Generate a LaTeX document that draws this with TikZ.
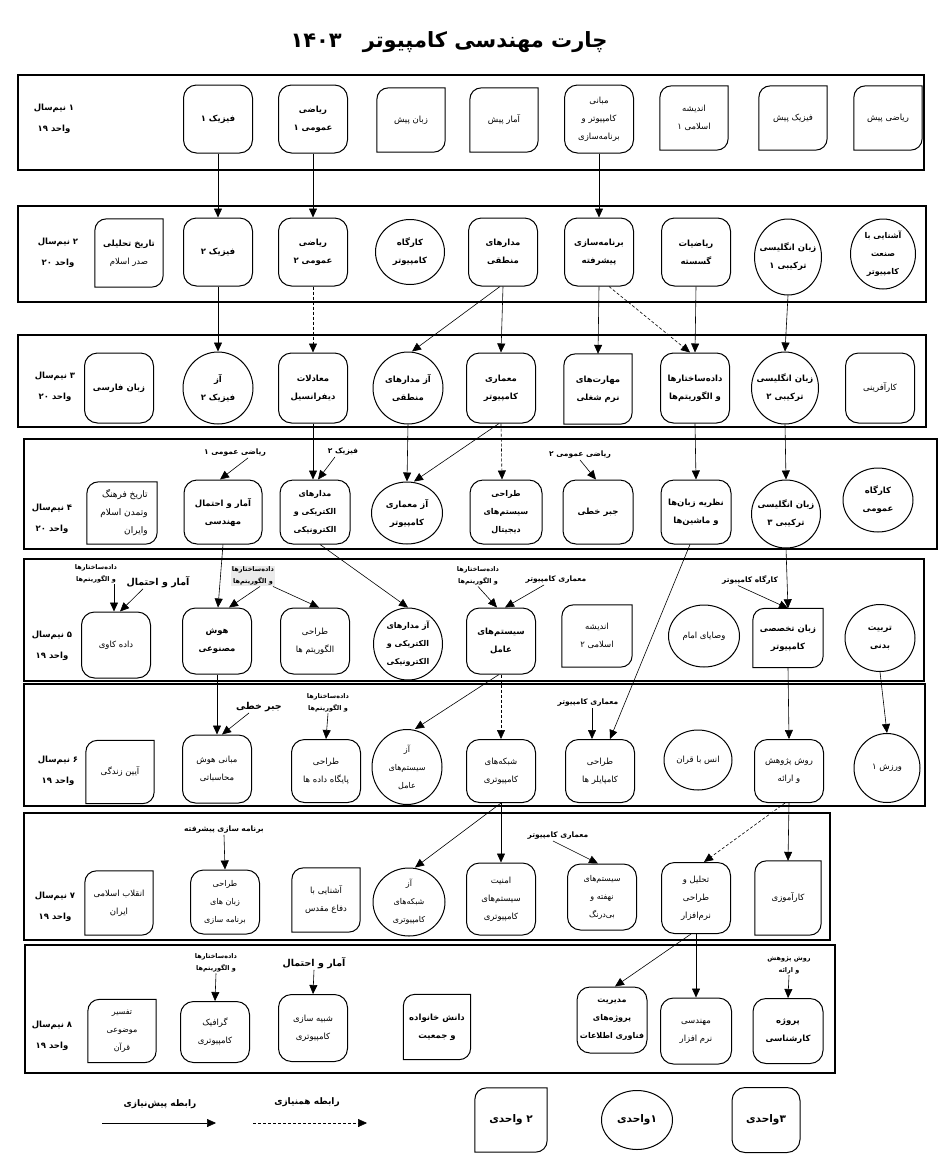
\documentclass[tikz,border=0pt]{standalone}
\usepackage{fontspec}
\TeXXeTstate=1
\newfontfamily\fa[Script=Arabic]{DejaVu Sans}
\usetikzlibrary{arrows.meta,shapes.geometric}
\newcommand{\Rt}[1]{\beginR #1\endR}
\newcommand{\Rb}[1]{{\bfseries\beginR #1\endR}}
\newcommand{\Rs}[1]{{\fontsize{8}{16}\selectfont\beginR #1\endR}}
\newcommand{\Rbs}[1]{{\fontsize{8}{16}\selectfont\bfseries\beginR #1\endR}}
\newcommand{\Rbig}[1]{{\fontsize{10.5}{12}\selectfont\bfseries\beginR #1\endR}}
\tikzset{
  sec/.style={draw=black, line width=1.1pt},
  three/.style={draw, rounded corners=13pt, minimum width=69pt, minimum height=68pt, inner sep=0pt, line width=1pt},
  one/.style={draw, ellipse, minimum width=69pt, minimum height=68pt, inner sep=0pt, line width=1pt},
  two/.style={rectangle, minimum width=68pt, minimum height=64pt, inner sep=0pt},
  boxline/.style={line width=1pt, draw=black},
  txt/.style={font=\fa\fontsize{8.5}{18}\selectfont, align=center, inner sep=0pt},
  lab/.style={font=\fa\bfseries\fontsize{6.5}{12}\selectfont, align=center, inner sep=1pt},
  mid/.style={font=\fa\bfseries\fontsize{7.5}{11}\selectfont, align=center, inner sep=1pt},
  big/.style={font=\fa\bfseries\fontsize{9.5}{12}\selectfont, inner sep=1pt},
  leglab/.style={font=\fa\bfseries\fontsize{9}{11}\selectfont, inner sep=1pt},
  sem/.style={font=\fa\bfseries\fontsize{8.5}{21}\selectfont, align=center},
  pre/.style={-{Triangle[length=9pt,width=8pt]}, line width=0.6pt},
  co/.style={pre, dash pattern=on 3pt off 2pt},
}
\newcommand{\Three}[5][]{\node[three,#1] (#2) at (#3,#4) {}; \node[txt] (#2-t) at (#2) {#5};}
\newcommand{\One}[5][]{\node[one,#1] (#2) at (#3,#4) {}; \node[txt] (#2-t) at (#2) {#5};}
\newcommand{\TwoShape}[4][]{\node[two,#1] (#2) at (#3,#4) {};
  \draw[boxline] (#2.south west) -- ([yshift=-12pt]#2.north west) .. controls ([yshift=-5pt]#2.north west) and ([xshift=5pt]#2.north west) .. ([xshift=12pt]#2.north west) -- (#2.north east) -- ([yshift=12pt]#2.south east) .. controls ([yshift=5pt]#2.south east) and ([xshift=-5pt]#2.south east) .. ([xshift=-12pt]#2.south east) -- cycle;}
\newcommand{\Two}[5][]{\TwoShape[#1]{#2}{#3}{#4}
  \node[txt] (#2-t) at (#2) {#5};}
\begin{document}
\begin{tikzpicture}[x=1pt,y=-1pt]
\useasboundingbox[fill=white] (0,0) rectangle (943,1173);
% title
\node[font=\fa\bfseries\fontsize{21}{24}\selectfont] (title) at (449,42) {\Rt{چارت مهندسی کامپیوتر\quad ۱۴۰۳}};
% sections
\draw[sec] (18,75) rectangle (924,170);
\draw[sec] (18,206) rectangle (926,302);
\draw[sec] (18,335) rectangle (926,427);
\draw[sec] (24,439) rectangle (937,549);
\draw[sec] (24,559) rectangle (924,681);
\draw[sec] (24,684) rectangle (925,806);
\draw[sec] (24,813) rectangle (830,940);
\draw[sec] (25,945) rectangle (835,1073);
% semester labels (words laid out left to right, as printed in the reference)
\node[sem] (s1) at (54,119) {نیم‌سال ۱\\۱۹ واحد};
\node[sem] (s2) at (58,253) {نیم‌سال ۲\\۲۰ واحد};
\node[sem] (s3) at (55,387) {نیم‌سال ۳\\۲۰ واحد};
\node[sem] (s4) at (52,519) {نیم‌سال ۴\\۲۰ واحد};
\node[sem] (s5) at (52,646) {نیم‌سال ۵\\۱۹ واحد};
\node[sem] (s6) at (58,771) {نیم‌سال ۶\\۱۹ واحد};
\node[sem] (s7) at (55,907) {نیم‌سال ۷\\۱۹ واحد};
\node[sem] (s8) at (52,1036) {نیم‌سال ۸\\۱۹ واحد};
% row 1
\Three{fiz1}{218}{119}{\Rb{فیزیک ۱}}
\Three{riaz1}{313}{119}{\Rb{ریاضی}\\\Rb{عمومی ۱}}
\Two{zpish}{411}{120}{\Rt{زبان پیش}}
\Two{apish}{504}{120}{\Rt{آمار پیش}}
\Three{mabani}{599}{119}{\Rt{مبانی}\\\Rt{کامپیوتر و}\\\Rt{برنامه‌سازی}}
\Two{and1}{694}{118}{\Rt{اندیشه}\\\Rt{اسلامی ۱}}
\Two{fpish}{793}{118}{\Rt{فیزیک پیش}}
\Two{rpish}{888}{118}{\Rt{ریاضی پیش}}
% row 2
\Two[minimum height=68pt]{tarikh}{129}{253}{\Rb{تاریخ تحلیلی}\\\Rt{صدر اسلام}}
\Three{fiz2}{218}{252}{\Rb{فیزیک ۲}}
\Three{riaz2}{313}{252}{\Rb{ریاضی}\\\Rb{عمومی ۲}}
\One[minimum height=65pt]{kargah}{410}{252}{\Rb{کارگاه}\\\Rb{کامپیوتر}}
\Three{madmant}{503}{252}{\Rb{مدارهای}\\\Rb{منطقی}}
\Three{barn}{599}{252}{\Rb{برنامه‌سازی}\\\Rb{پیشرفته}}
\Three{gosaste}{696}{252}{\Rb{ریاضیات}\\\Rb{گسسته}}
\One[minimum width=67pt,minimum height=76pt]{eng1}{788}{257}{\Rb{زبان انگلیسی}\\\Rb{ترکیبی ۱}}
\One[minimum width=65pt,minimum height=70pt]{sanat}{883}{254}{\Rbs{آشنایی با}\\\Rbs{صنعت}\\\Rbs{کامپیوتر}}
% row 3
\Three[minimum height=70pt]{farsi}{119}{388}{\Rb{زبان فارسی}}
\One[minimum width=70pt,minimum height=72pt]{azfiz2}{218}{388}{\Rb{آز}\\\Rb{فیزیک ۲}}
\Three[minimum height=70pt]{moadelat}{313}{388}{\Rb{معادلات}\\\Rb{دیفرانسیل}}
\One[minimum width=70pt,minimum height=72pt]{azmadmant}{408}{388}{\Rb{آز مدارهای}\\\Rb{منطقی}}
\Three[minimum height=70pt]{memari}{501}{388}{\Rb{معماری}\\\Rb{کامپیوتر}}
\Two[minimum height=70pt]{maharat}{598}{389}{\Rb{مهارت‌های}\\\Rb{نرم شغلی}}
\Three[minimum height=70pt]{dade}{695}{388}{\Rb{داده‌ساختارها}\\\Rb{و الگوریتم‌ها}}
\One[minimum width=67pt,minimum height=72pt]{eng2}{785}{388}{\Rb{زبان انگلیسی}\\\Rb{ترکیبی ۲}}
\Three[minimum height=70pt]{karafarini}{880}{388}{\Rt{کارآفرینی}}
% row 4
\TwoShape[minimum width=70pt,minimum height=62pt]{tamadon}{122}{513}
\node[txt,align=right,font=\fa\fontsize{9}{18}\selectfont] (tamadon-t) at ([xshift=2pt]tamadon) {\Rt{تاریخ فرهنگ}\\\Rt{وتمدن اسلام}\\\Rt{وایران}};
\Three[minimum width=78pt,minimum height=64pt]{amar}{223}{512}{\Rb{آمار و احتمال}\\\Rb{مهندسی}}
\Three[minimum width=70pt,minimum height=64pt]{madelec}{315}{512}{\Rbs{مدارهای}\\\Rbs{الکتریکی و}\\\Rbs{الکترونیکی}}
\One[minimum width=71pt,minimum height=62pt]{azmemari}{407}{513}{\Rb{آز معماری}\\\Rb{کامپیوتر}}
\Three[minimum width=72pt,minimum height=64pt]{tarahidig}{506}{512}{\Rbs{طراحی}\\\Rbs{سیستم‌های}\\\Rbs{دیجیتال}}
\Three[minimum width=70pt,minimum height=64pt]{jabr}{598}{512}{\Rb{جبر خطی}}
\Three[minimum width=70pt,minimum height=64pt]{nazarie}{696}{512}{\Rb{نظریه زبان‌ها}\\\Rb{و ماشین‌ها}}
\One[minimum width=69pt,minimum height=68pt]{eng3}{786}{514}{\Rb{زبان انگلیسی}\\\Rb{ترکیبی ۳}}
\One[minimum width=70pt,minimum height=64pt]{kargahomumi}{878}{500}{\Rb{کارگاه}\\\Rb{عمومی}}
% row 5
\Three[minimum height=66pt]{dadekavi}{116}{645}{\Rt{داده کاوی}}
\Three[minimum height=66pt]{hoosh}{217}{641}{\Rb{هوش}\\\Rb{مصنوعی}}
\Three[minimum height=66pt]{tarahialg}{315}{641}{\Rt{طراحی}\\\Rt{الگوریتم ها}}
\One[minimum width=69pt,minimum height=72pt]{azmadelec}{408}{644}{\Rbs{آز مدارهای}\\\Rbs{الکتریکی و}\\\Rbs{الکترونیکی}}
\Three[minimum height=66pt]{systamel}{501}{641}{\Rb{سیستم‌های}\\\Rb{عامل}}
\Two[minimum width=70pt,minimum height=62pt]{and2}{597}{636}{\Rt{اندیشه}\\\Rt{اسلامی ۲}}
\One[minimum width=71pt,minimum height=62pt]{vasaya}{704}{636}{\Rt{وصایای امام}}
\Two[minimum width=70pt,minimum height=59pt]{zabtakh}{788}{638}{\Rb{زبان تخصصی}\\\Rb{کامپیوتر}}
\One[minimum width=70pt,minimum height=67pt]{tarbiat}{880}{638}{\Rb{تربیت}\\\Rb{بدنی}}
% row 6
\Two[minimum height=63pt]{aein}{120}{772}{\Rt{آیین زندگی}}
\Three[minimum height=68pt]{mabhoosh}{217}{769}{\Rt{مبانی هوش}\\\Rt{محاسباتی}}
\Three[minimum height=63pt]{paygah}{326}{771}{\Rt{طراحی}\\\Rt{پایگاه داده ها}}
\One[minimum width=70pt,minimum height=75pt]{azsyst}{407}{767}{\Rs{آز}\\\Rs{سیستم‌های}\\\Rs{عامل}}
\Three[minimum height=63pt]{shabake}{501}{771}{\Rt{شبکه‌های}\\\Rt{کامپیوتری}}
\Three[minimum height=63pt]{compiler}{600}{771}{\Rt{طراحی}\\\Rt{کامپایلر ها}}
\One[minimum width=68pt,minimum height=60pt]{ons}{698}{760}{\Rt{انس با قران}}
\Three[minimum height=63pt]{ravesh}{789}{771}{\Rt{روش پژوهش}\\\Rt{و ارائه}}
\One[minimum width=66pt,minimum height=69pt]{varzesh}{887}{768}{\Rt{ورزش ۱}}
% row 7
\Two[minimum height=64pt]{enghelab}{119}{903}{\Rt{انقلاب اسلامی}\\\Rt{ایران}}
\Three[minimum height=64pt]{tarahizaban}{225}{902}{\Rs{طراحی}\\\Rs{زبان های}\\\Rs{برنامه سازی}}
\Two[minimum height=64pt]{defa}{326}{900}{\Rt{آشنایی با}\\\Rt{دفاع مقدس}}
\One[minimum width=72pt,minimum height=68pt]{azshabake}{409}{902}{\Rs{آز}\\\Rs{شبکه‌های}\\\Rs{کامپیوتری}}
\Three[minimum height=72pt]{amniat}{501}{899}{\Rt{امنیت}\\\Rt{سیستم‌های}\\\Rt{کامپیوتری}}
\Three[minimum height=66pt]{nahofte}{602}{897}{\Rs{سیستم‌های}\\\Rs{نهفته و}\\\Rs{بی‌درنگ}}
\Three[minimum height=71pt]{tahlil}{696}{898}{\Rt{تحلیل و}\\\Rt{طراحی}\\\Rt{نرم‌افزار}}
\Two[minimum width=66pt,minimum height=74pt]{karamuzi}{788}{898}{\Rt{کارآموزی}}
% row 8
\Two[minimum height=63pt]{tafsir}{122}{1031}{\Rs{تفسیر}\\\Rs{موضوعی}\\\Rs{قرآن}}
\Three[minimum height=61pt]{graphic}{215}{1032}{\Rt{گرافیک}\\\Rt{کامپیوتری}}
\Three[minimum height=67pt]{shabih}{313}{1028}{\Rt{شبیه سازی}\\\Rt{کامپیوتری}}
\Two[minimum width=67pt,minimum height=65pt]{danesh}{437}{1027}{\Rb{دانش خانواده}\\\Rb{و جمعیت}}
\Three[minimum width=70pt,minimum height=66pt]{modiriat}{612}{1020}{\Rbs{مدیریت}\\\Rbs{پروژه‌های}\\\Rbs{فناوری اطلاعات}}
\Three[minimum width=71pt,minimum height=66pt]{mohandesi}{696}{1031}{\Rt{مهندسی}\\\Rt{نرم افزار}}
\Three[minimum width=70pt,minimum height=65pt]{projekar}{788}{1031}{\Rb{پروژه}\\\Rb{کارشناسی}}
% side labels
\node[mid] (lr1) at (235,453) {\Rt{ریاضی عمومی ۱}};
\node[mid] (lf2) at (343,452) {\Rt{فیزیک ۲}};
\node[mid] (lr2) at (580,455) {\Rt{ریاضی عمومی ۲}};
\node[lab,fill=white] (l5a) at (96,574) {\Rt{داده‌ساختارها}\\\Rt{و الگوریتم‌ها}};
\node[big] (l5b) at (158,582) {\Rt{آمار و احتمال}};
\node[lab,fill=black!8] (l5c) at (253,576) {\Rt{داده‌ساختارها}\\\Rt{و الگوریتم‌ها}};
\node[lab] (l5d) at (478,576) {\Rt{داده‌ساختارها}\\\Rt{و الگوریتم‌ها}};
\node[mid] (l5e) at (556,580) {\Rt{معماری کامپیوتر}};
\node[mid] (l5f) at (750,580) {\Rt{کارگاه کامپیوتر}};
\node[big] (l6a) at (259,707) {\Rt{جبر خطی}};
\node[lab] (l6b) at (328,703) {\Rt{داده‌ساختارها}\\\Rt{و الگوریتم‌ها}};
\node[mid] (l6c) at (588,703) {\Rt{معماری کامپیوتر}};
\node[mid] (l7a) at (224,830) {\Rt{برنامه سازی پیشرفته}};
\node[mid] (l7b) at (558,836) {\Rt{معماری کامپیوتر}};
\node[lab] (l8a) at (216,963) {\Rt{داده‌ساختارها}\\\Rt{و الگوریتم‌ها}};
\node[big] (l8b) at (314,963) {\Rt{آمار و احتمال}};
\node[lab] (l8c) at (789,965) {\Rt{روش پژوهش}\\\Rt{و ارائه}};
% edges between semesters
\draw[pre] (fiz1.south) -- (fiz2.north);
\draw[pre] (riaz1.south) -- (riaz2.north);
\draw[pre] (mabani.south) -- (barn.north);
\draw[pre] (fiz2.south) -- (azfiz2.north);
\draw[co] (riaz2.south) -- (moadelat.north);
\draw[pre] ([xshift=-3pt]madmant.south) -- ([xshift=4pt]azmadmant.north);
\draw[pre] (madmant.south) -- (memari.north);
\draw[pre] (barn.south) -- (maharat.north);
\draw[co] ([xshift=10pt]barn.south) -- ([xshift=-5pt]dade.north);
\draw[pre] (gosaste.south) -- (dade.north);
\draw[pre] (eng1.south) -- (eng2.north);
\draw[pre] (moadelat.south) -- ([xshift=-2pt]madelec.north);
\draw[pre] (azmadmant.south) -- (azmemari.north);
\draw[pre] ([xshift=-2pt]memari.south) -- ([xshift=7pt]azmemari.north);
\draw[co] (memari.south) -- ([xshift=-4pt]tarahidig.north);
\draw[pre] (dade.south) -- (nazarie.north);
\draw[pre] (eng2.south) -- (eng3.north);
\draw[pre] (amar.south) -- ([xshift=-5pt]amar.south |- hoosh.north);
\draw[pre] ([xshift=5pt]madelec.south) -- (azmadelec.north);
\draw[pre] ([xshift=-6pt]nazarie.south) -- ([xshift=10pt]compiler.north);
\draw[pre] (eng3.south) -- (zabtakh.north);
\draw[pre] (hoosh.south) -- (mabhoosh.north);
\draw[pre] ([xshift=-2pt]systamel.south) -- ([xshift=8pt]azsyst.north);
\draw[co] (systamel.south) -- (shabake.north);
\draw[pre] (zabtakh.south) -- (ravesh.north);
\draw[pre] (tarbiat.south) -- (varzesh.north);
\draw[pre] (shabake.south) -- ([xshift=6pt]azshabake.north);
\draw[pre] (shabake.south) -- (amniat.north);
\draw[co] ([xshift=-4pt]ravesh.south) -- ([xshift=8pt]tahlil.north);
\draw[pre] (ravesh.south) -- (karamuzi.north);
\draw[pre] ([xshift=-5pt]tahlil.south) -- ([xshift=3pt]modiriat.north);
\draw[pre] (tahlil.south) -- (mohandesi.north);
% label arrows
\draw[pre] ([xshift=13pt]lr1.south) -- ([xshift=-3pt]amar.north);
\draw[pre] ([xshift=-8pt]lf2.south) -- ([xshift=3pt]madelec.north);
\draw[pre] (lr2.south) -- ([xshift=-2pt]jabr.north);
\draw[pre] ([xshift=-2pt]dadekavi.north |- l5a.south) -- ([xshift=-2pt]dadekavi.north);
\draw[pre] ([xshift=-15pt]l5b.south) -- ([xshift=4pt]dadekavi.north);
\draw[pre] ([xshift=7pt]l5c.south) -- ([xshift=12pt]hoosh.north);
\draw[pre] ([xshift=20pt]l5c.south) -- ([xshift=4pt]tarahialg.north);
\draw[pre] (l5d.south) -- ([xshift=-4pt]systamel.north);
\draw[pre] ([xshift=-12pt]l5e.south) -- ([xshift=4pt]systamel.north);
\draw[pre] ([xshift=-12pt]l5f.south) -- (zabtakh.north);
\draw[pre] ([xshift=-10pt]l6a.south) -- ([xshift=5pt]mabhoosh.north);
\draw[pre] (l6b.south) -- (paygah.north);
\draw[pre] ([xshift=4pt]l6c.south) -- ([xshift=-8pt]compiler.north);
\draw[pre] (l7a.south) -- (tarahizaban.north);
\draw[pre] ([xshift=-5pt]l7b.south) -- ([xshift=-4pt]nahofte.north);
\draw[pre] (l8a.south) -- (graphic.north);
\draw[pre] (l8b.south) -- (shabih.north);
\draw[pre] (l8c.south) -- (projekar.north);
% legend
\coordinate (la1) at (102,1123);
\coordinate (la2) at (216,1123);
\coordinate (lb1) at (253,1123);
\coordinate (lb2) at (367,1123);
\draw[pre] (la1) -- (la2);
\draw[co] (lb1) -- (lb2);
\node[leglab] (lega) at (160,1104) {\Rt{رابطه پیش‌نیازی}};
\node[leglab] (legb) at (307,1102) {\Rt{رابطه همنیازی}};
\Two[minimum width=72pt,minimum height=64pt]{leg2}{511}{1120}{\Rbig{۲ واحدی}}
\One[minimum width=71pt,minimum height=59pt]{leg1}{637}{1120}{\Rbig{۱واحدی}}
\Three[minimum width=68pt,minimum height=65pt]{leg3}{766}{1120}{\Rbig{۳واحدی}}
\end{tikzpicture}
\end{document}
